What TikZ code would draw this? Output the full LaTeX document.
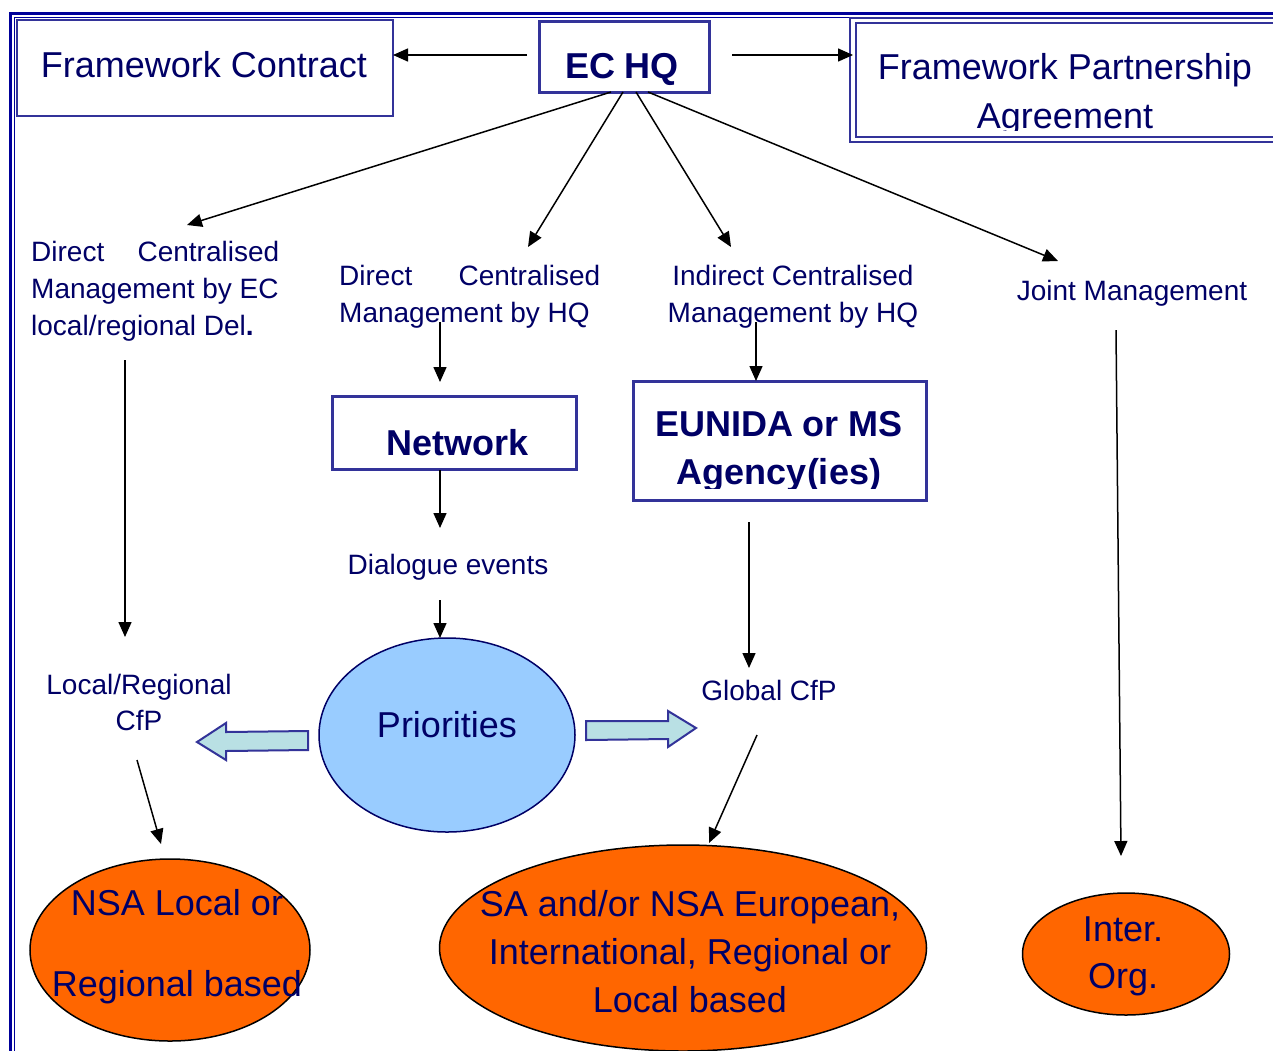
\documentclass[tikz,border=0pt]{standalone}
\usepackage{fontspec}
\setmainfont{Liberation Sans}
\usetikzlibrary{arrows.meta,shapes.geometric}
\definecolor{txt}{RGB}{0,0,102}
\definecolor{boxb}{RGB}{51,51,153}
\definecolor{frameb}{RGB}{0,0,153}
\definecolor{orangef}{RGB}{255,102,0}
\definecolor{priof}{RGB}{153,204,255}
\definecolor{barrowf}{RGB}{185,224,228}
\tikzset{
  smalltxt/.style={text=txt, font=\fontsize{28}{36}\selectfont, inner sep=0pt, anchor=base},
  bigtxt/.style={text=txt, font=\fontsize{36}{46}\selectfont, inner sep=0pt, anchor=base},
  boldtxt/.style={text=txt, font=\fontsize{36}{46}\selectfont\bfseries, inner sep=0pt, anchor=base},
  thinbox/.style={draw=boxb, line width=1.5pt, inner sep=0pt, anchor=north west},
  thickbox/.style={draw=boxb, line width=3pt, inner sep=0pt, anchor=north west},
  oval/.style={ellipse, draw=black, line width=1.5pt, fill=orangef, inner sep=0pt},
  conn/.style={draw=black, line width=1.5pt, -{Triangle[length=15pt,width=13pt]}},
  blockarrow/.style={draw=boxb, line width=2pt, fill=barrowf, line join=miter},
}
\begin{document}
\begin{tikzpicture}[x=1pt,y=-1pt]
\useasboundingbox (0,0) rectangle (1273,1050);
\clip (0,0) rectangle (1273,1050);
\fill[white] (0,0) rectangle (1273,1050);

% outer double frame
\draw[frameb, line width=3pt] (10,1060) -- (10,13) -- (1290,13);
\draw[frameb, line width=1.5pt] (14.5,1060) -- (14.5,17.5) -- (1290,17.5);

% top boxes
\node[thinbox, minimum width=376pt, minimum height=96pt] (fc) at (16,19) {};
\node[thickbox, minimum width=170pt, minimum height=71pt] (hq) at (538,20) {};
\node[draw=boxb, double=white, double distance=3.5pt, line width=2pt, inner sep=0pt,
      anchor=north west, minimum width=440pt, minimum height=119pt] (fpa) at (852,19.5) {};

\node[bigtxt] (fct) at (204,77) {Framework Contract};
\node[boldtxt] (hqt) at (622,78) {EC HQ};
\node[bigtxt] (fpat1) at (1065,79) {Framework Partnership};
\begin{scope}
  \clip (855,22) rectangle (1280,130);
  \node[bigtxt] (fpat2) at (1065,128) {Agreement};
\end{scope}

% management labels
\node[smalltxt, anchor=base west] (d1a) at (31,261) {\hbox to 248pt{Direct\hfill Centralised}};
\node[smalltxt, anchor=base west] (d1b) at (31,298) {Management by EC};
\node[smalltxt, anchor=base west] (d1c) at (31,335) {local/regional Del\textbf{.}};

\node[smalltxt, anchor=base west] (d2a) at (339,285) {\hbox to 261pt{Direct\hfill Centralised}};
\node[smalltxt, anchor=base west] (d2b) at (339,322) {Management by HQ};

\node[smalltxt] (d3a) at (793,285) {Indirect Centralised};
\node[smalltxt] (d3b) at (793,322) {Management by HQ};

\node[smalltxt] (jm) at (1132,300) {Joint Management};

% middle boxes
\node[thickbox, minimum width=244pt, minimum height=73pt] (net) at (331,395) {};
\node[boldtxt] (nett) at (458,455) {Network};
\node[thickbox, minimum width=293pt, minimum height=119pt] (eu) at (632,380) {};
\node[boldtxt] (eut1) at (779,436) {EUNIDA or MS};
\begin{scope}
  \clip (635,440) rectangle (922,488);
  \node[boldtxt] (eut2) at (779,484) {Agency(ies)};
\end{scope}

\node[smalltxt] (dia) at (448,574) {Dialogue events};
\node[smalltxt] (lr1) at (139,694) {Local/Regional};
\node[smalltxt] (lr2) at (139,730) {CfP};
\node[smalltxt] (gc) at (769,700) {Global CfP};

% ellipses
\node[ellipse, draw=txt, line width=1.5pt, fill=priof, inner sep=0pt,
      minimum width=256pt, minimum height=194pt] (pri) at (447,735) {};
\node[bigtxt] (prit) at (447,737) {Priorities};

\node[oval, minimum width=280pt, minimum height=182pt] (nsa) at (170,950) {};
\node[bigtxt] (nsat1) at (177,915) {NSA Local or};
\node[bigtxt] (nsat2) at (177,996) {Regional based};

\node[oval, minimum width=487pt, minimum height=206pt] (sa) at (683,948) {};
\node[bigtxt] (sat1) at (690,916) {SA and/or NSA European,};
\node[bigtxt] (sat2) at (690,964) {International, Regional or};
\node[bigtxt] (sat3) at (690,1012) {Local based};

\node[oval, minimum width=207pt, minimum height=122pt] (io) at (1126,954) {};
\node[bigtxt] (iot1) at (1123,941) {Inter.};
\node[bigtxt] (iot2) at (1123,988) {Org.};

% block arrows
\draw[blockarrow] (308,731) -- (226,732) -- (226,723) -- (197,742) -- (226,760) -- (226,751) -- (308,750) -- cycle;
\draw[blockarrow] (586,721) -- (668,721) -- (668,711) -- (696,728) -- (668,747) -- (668,739) -- (586,740) -- cycle;

% connector end points
\coordinate (c1s) at (527,55);   \coordinate (c1e) at (393,55);
\coordinate (c2s) at (732,55);   \coordinate (c2e) at (853,55);
\coordinate (c3s) at (611,92);   \coordinate (c3e) at (187,225);
\coordinate (c4s) at (623,92);   \coordinate (c4e) at (528,247);
\coordinate (c5s) at (636,92);   \coordinate (c5e) at (731,247);
\coordinate (c6s) at (648,92);   \coordinate (c6e) at (1058,261);
\coordinate (c7s) at (125,360);  \coordinate (c7e) at (125,637);
\coordinate (c8s) at (440,322);  \coordinate (c8e) at (440,382);
\coordinate (c9s) at (756,322);  \coordinate (c9e) at (756,381);
\coordinate (c10s) at (440,470); \coordinate (c10e) at (440,528);
\coordinate (c11s) at (440,600); \coordinate (c11e) at (440,638);
\coordinate (c12s) at (749,522); \coordinate (c12e) at (749,668);
\coordinate (c13s) at (1116,330);\coordinate (c13e) at (1121,856);
\coordinate (c14s) at (137,760); \coordinate (c14e) at (161,844);
\coordinate (c15s) at (757,735); \coordinate (c15e) at (709,843);

\foreach \i in {1,...,15} {\draw[conn] (c\i s) -- (c\i e);}
\end{tikzpicture}
\end{document}
